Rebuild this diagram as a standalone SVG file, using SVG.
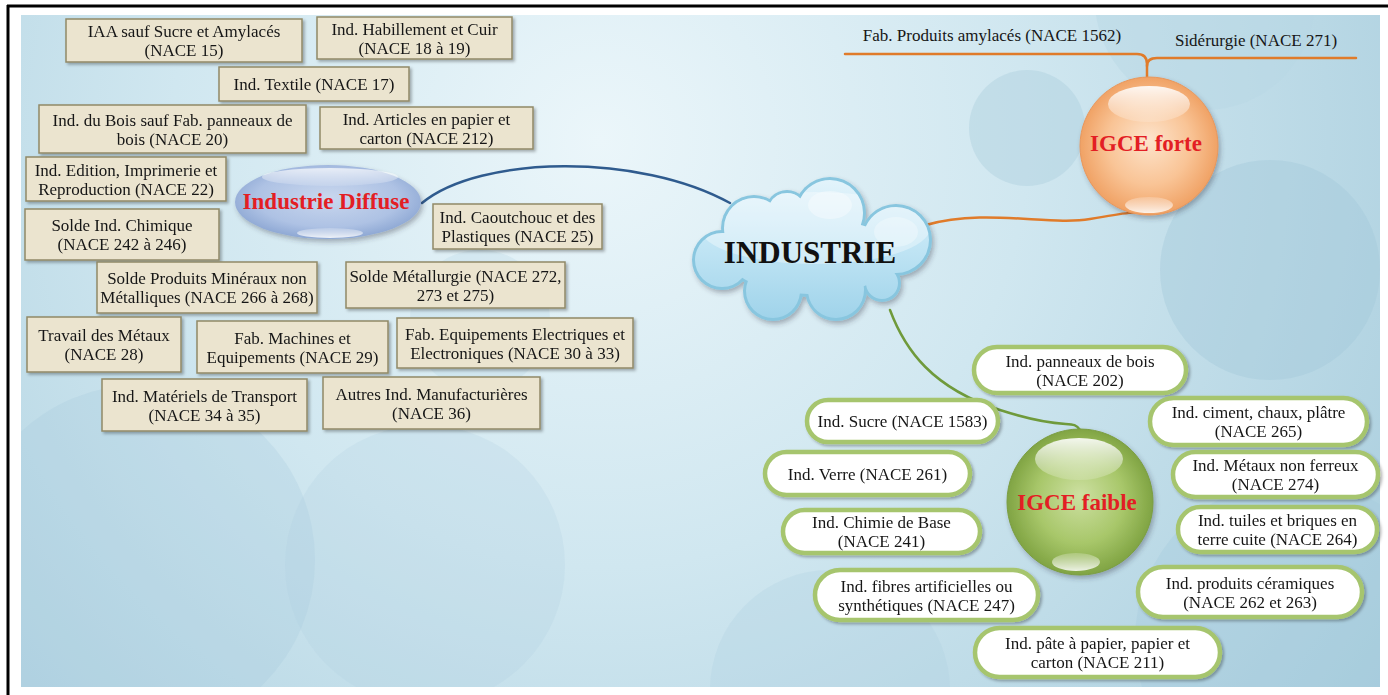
<svg xmlns="http://www.w3.org/2000/svg" width="1388" height="695" viewBox="0 0 1388 695">
<defs>
  <radialGradient id="bg" cx="600" cy="140" r="950" gradientUnits="userSpaceOnUse">
    <stop offset="0" stop-color="#ebf6fa"/>
    <stop offset="0.45" stop-color="#d0e7f0"/>
    <stop offset="1" stop-color="#a8cddd"/>
  </radialGradient>
  <clipPath id="bgclip"><rect x="21" y="15" width="1359" height="672"/></clipPath>
  <linearGradient id="cloudGrad" x1="0" y1="178" x2="0" y2="320" gradientUnits="userSpaceOnUse">
    <stop offset="0" stop-color="#e4f4fb"/>
    <stop offset="0.45" stop-color="#c3e6f5"/>
    <stop offset="1" stop-color="#9fd3ea"/>
  </linearGradient>
  <radialGradient id="orangeGrad" cx="0.5" cy="0.5" r="0.5" fx="0.5" fy="0.45">
    <stop offset="0" stop-color="#fde4cc"/>
    <stop offset="0.6" stop-color="#f9c496"/>
    <stop offset="1" stop-color="#f0a265"/>
  </radialGradient>
  <radialGradient id="greenGrad" cx="0.5" cy="0.5" r="0.5" fx="0.5" fy="0.45">
    <stop offset="0" stop-color="#cde0a2"/>
    <stop offset="0.6" stop-color="#a8c76a"/>
    <stop offset="1" stop-color="#80a443"/>
  </radialGradient>
  <radialGradient id="blueGrad" cx="0.5" cy="0.45" r="0.55">
    <stop offset="0" stop-color="#c9d7ee"/>
    <stop offset="0.7" stop-color="#aec2e4"/>
    <stop offset="1" stop-color="#8ea8d4"/>
  </radialGradient>
  <linearGradient id="hl" x1="0" y1="0" x2="0" y2="1">
    <stop offset="0" stop-color="#ffffff" stop-opacity="0.9"/>
    <stop offset="1" stop-color="#ffffff" stop-opacity="0.15"/>
  </linearGradient>
  <linearGradient id="hlb" x1="0" y1="1" x2="0" y2="0">
    <stop offset="0" stop-color="#ffffff" stop-opacity="0.85"/>
    <stop offset="1" stop-color="#ffffff" stop-opacity="0.2"/>
  </linearGradient>
  <filter id="sh" x="-10%" y="-10%" width="130%" height="140%">
    <feDropShadow dx="2" dy="2" stdDeviation="1.5" flood-color="#000" flood-opacity="0.3"/>
  </filter>
  <filter id="shs" x="-20%" y="-20%" width="140%" height="150%">
    <feDropShadow dx="2" dy="3" stdDeviation="2.5" flood-color="#334" flood-opacity="0.35"/>
  </filter>
  <clipPath id="cloudclip">
    <circle cx="787" cy="212" r="19"/>
    <circle cx="830" cy="213" r="33"/>
    <circle cx="754" cy="228" r="30"/>
    <circle cx="896" cy="240" r="33"/>
    <circle cx="722" cy="260" r="27"/>
    <circle cx="773" cy="291" r="27"/>
    <circle cx="836" cy="290" r="28"/>
    <circle cx="882" cy="283" r="16"/>
    <ellipse cx="812" cy="256" rx="85" ry="38"/>
  </clipPath>
  <style>
    .box rect { fill: #ebe4cf; stroke: #918967; stroke-width: 1.5; }
    .pill rect { fill: #ffffff; stroke: #a6c56e; stroke-width: 4.5; }
    text { font-family: "Liberation Serif", "Times New Roman", serif; }
    .t { font-family: "Liberation Serif", "Times New Roman", serif; font-size: 17px; fill: #161616; text-anchor: middle; }
    .red { font-family: "Liberation Serif", "Times New Roman", serif; font-size: 23px; font-weight: bold; fill: #e31e24; text-anchor: middle; }
    .conn { fill: none; stroke-width: 2.5; stroke-linecap: round; }
  </style>
</defs>

<!-- page frame -->
<rect x="0" y="0" width="1388" height="695" fill="#ffffff"/>
<rect x="21" y="15" width="1359" height="672" fill="url(#bg)"/>
<g clip-path="url(#bgclip)">
  <circle cx="140" cy="560" r="175" fill="#a2c9db" opacity="0.25"/>
  <circle cx="425" cy="565" r="140" fill="#accfe0" opacity="0.22"/>
  <circle cx="480" cy="320" r="70" fill="#b9d8e6" opacity="0.3"/>
  <circle cx="1027" cy="128" r="58" fill="#a9cddd" opacity="0.4"/>
  <circle cx="1205" cy="0" r="110" fill="#b7d6e4" opacity="0.45"/>
  <circle cx="1270" cy="270" r="110" fill="#a2c8da" opacity="0.4"/>
  <circle cx="1295" cy="640" r="160" fill="#a5cbdd" opacity="0.35"/>
  <circle cx="830" cy="690" r="120" fill="#b0d2e1" opacity="0.3"/>
</g>
<line x1="8" y1="5" x2="8" y2="695" stroke="#000" stroke-width="3"/>
<line x1="7" y1="6" x2="1388" y2="6" stroke="#000" stroke-width="3"/>

<!-- connectors -->
<g id="connectors">
  <path class="conn" d="M422 203 C480 155 640 153 730 203" stroke="#2f5b8e"/>
  <path class="conn" d="M926 225 C985 208 1050 226 1090 219 S1135 212 1146 212" stroke="#e07b2a"/>
  <path class="conn" d="M890 310 C905 350 932 388 1000 410 S1072 418 1080 430" stroke="#6f9a3b"/>
  <path class="conn" d="M845 54 L1137 54 Q1147 54 1147 64 L1147 78" stroke="#e07b2a"/>
  <path class="conn" d="M1147 66 Q1147 58 1157 58 L1356 58" stroke="#e07b2a"/>
</g>

<!-- central cloud -->
<g id="industrie">
  <g filter="url(#shs)">
    <g fill="#88c6df">
      <circle cx="787" cy="212" r="22"/>
      <circle cx="830" cy="213" r="36"/>
      <circle cx="754" cy="228" r="33"/>
      <circle cx="896" cy="240" r="36"/>
      <circle cx="722" cy="260" r="30"/>
      <circle cx="773" cy="291" r="30"/>
      <circle cx="836" cy="290" r="31"/>
      <circle cx="882" cy="283" r="19"/>
      <ellipse cx="812" cy="256" rx="88" ry="41"/>
    </g>
  </g>
  <rect x="690" y="170" width="250" height="160" fill="url(#cloudGrad)" clip-path="url(#cloudclip)"/>
  <g clip-path="url(#cloudclip)">
    <ellipse cx="815" cy="228" rx="115" ry="36" fill="#ffffff" opacity="0.35"/>
    <ellipse cx="830" cy="205" rx="22" ry="14" fill="#ffffff" opacity="0.35"/>
    <ellipse cx="896" cy="232" rx="22" ry="15" fill="#ffffff" opacity="0.3"/>
  </g>
  <text x="810" y="263" text-anchor="middle" font-size="31" font-weight="bold" fill="#111">INDUSTRIE</text>
</g>

<!-- Industrie Diffuse -->
<g id="industrie-diffuse">
  <ellipse cx="328" cy="202" rx="93" ry="37" fill="url(#blueGrad)" filter="url(#shs)"/>
  <ellipse cx="330" cy="177" rx="68" ry="9" fill="url(#hl)" opacity="0.8"/>
  <ellipse cx="330" cy="233" rx="33" ry="5" fill="url(#hlb)"/>
  <text class="red" x="326" y="209">Industrie Diffuse</text>
</g>

<!-- IGCE forte -->
<g id="igce-forte">
  <circle cx="1149" cy="146" r="69" fill="url(#orangeGrad)" stroke="#e8975c" stroke-width="1" filter="url(#shs)"/>
  <ellipse cx="1149" cy="104" rx="41" ry="18" fill="url(#hl)"/>
  <ellipse cx="1149" cy="205" rx="24" ry="8" fill="url(#hlb)"/>
  <text class="red" x="1146" y="151">IGCE forte</text>
</g>
<g id="fab-amylaces"><text class="t" x="992" y="41">Fab. Produits amylacés (NACE 1562)</text></g>
<g id="siderurgie"><text class="t" x="1256" y="46">Sidérurgie (NACE 271)</text></g>

<!-- IGCE faible -->
<g id="igce-faible">
  <circle cx="1080" cy="502" r="73" fill="url(#greenGrad)" stroke="#7b9d42" stroke-width="1" filter="url(#shs)"/>
  <ellipse cx="1079" cy="459" rx="44" ry="21" fill="url(#hl)"/>
  <ellipse cx="1076" cy="562" rx="24" ry="9" fill="url(#hlb)"/>
  <text class="red" x="1077" y="510">IGCE faible</text>
</g>

<!-- Industrie Diffuse boxes -->
<g id="iaa" class="box" filter="url(#sh)"><rect x="66" y="19" width="236" height="43"/><text class="t" x="184" y="37">IAA sauf Sucre et Amylacés</text><text class="t" x="184" y="56">(NACE 15)</text></g>
<g id="habillement" class="box" filter="url(#sh)"><rect x="317" y="17" width="195" height="42"/><text class="t" x="414.5" y="34.5">Ind. Habillement et Cuir</text><text class="t" x="414.5" y="53.5">(NACE 18 à 19)</text></g>
<g id="textile" class="box" filter="url(#sh)"><rect x="219" y="67" width="190" height="34"/><text class="t" x="314" y="90">Ind. Textile (NACE 17)</text></g>
<g id="bois" class="box" filter="url(#sh)"><rect x="39" y="105" width="267" height="48"/><text class="t" x="172.5" y="125.5">Ind. du Bois sauf Fab. panneaux de</text><text class="t" x="172.5" y="144.5">bois (NACE 20)</text></g>
<g id="articles-papier" class="box" filter="url(#sh)"><rect x="320" y="107" width="213" height="42"/><text class="t" x="426.5" y="124.5">Ind. Articles en papier et</text><text class="t" x="426.5" y="143.5">carton (NACE 212)</text></g>
<g id="edition" class="box" filter="url(#sh)"><rect x="26" y="157" width="200" height="44"/><text class="t" x="126" y="175.5">Ind. Edition, Imprimerie et</text><text class="t" x="126" y="194.5">Reproduction (NACE 22)</text></g>
<g id="caoutchouc" class="box" filter="url(#sh)"><rect x="433" y="204" width="169" height="45"/><text class="t" x="517.5" y="223">Ind. Caoutchouc et des</text><text class="t" x="517.5" y="242">Plastiques (NACE 25)</text></g>
<g id="solde-chimique" class="box" filter="url(#sh)"><rect x="25" y="209" width="194" height="51"/><text class="t" x="122" y="231">Solde Ind. Chimique</text><text class="t" x="122" y="250">(NACE 242 à 246)</text></g>
<g id="solde-mineraux" class="box" filter="url(#sh)"><rect x="97" y="262" width="220" height="51"/><text class="t" x="207" y="284">Solde Produits Minéraux non</text><text class="t" x="207" y="303">Métalliques (NACE 266 à 268)</text></g>
<g id="solde-metallurgie" class="box" filter="url(#sh)"><rect x="346" y="262" width="219" height="46"/><text class="t" x="455.5" y="281.5">Solde Métallurgie (NACE 272,</text><text class="t" x="455.5" y="300.5">273 et 275)</text></g>
<g id="travail-metaux" class="box" filter="url(#sh)"><rect x="27" y="317" width="154" height="55"/><text class="t" x="104" y="341">Travail des Métaux</text><text class="t" x="104" y="360">(NACE 28)</text></g>
<g id="machines" class="box" filter="url(#sh)"><rect x="197" y="321" width="191" height="52"/><text class="t" x="292.5" y="343.5">Fab. Machines et</text><text class="t" x="292.5" y="362.5">Equipements (NACE 29)</text></g>
<g id="equipements-electriques" class="box" filter="url(#sh)"><rect x="397" y="318" width="236" height="50"/><text class="t" x="515" y="339.5">Fab. Equipements Electriques et</text><text class="t" x="515" y="358.5">Electroniques (NACE 30 à 33)</text></g>
<g id="transport" class="box" filter="url(#sh)"><rect x="102" y="379" width="205" height="52"/><text class="t" x="204.5" y="401.5">Ind. Matériels de Transport</text><text class="t" x="204.5" y="420.5">(NACE 34 à 35)</text></g>
<g id="autres" class="box" filter="url(#sh)"><rect x="323" y="377" width="217" height="52"/><text class="t" x="431.5" y="399.5">Autres Ind. Manufacturières</text><text class="t" x="431.5" y="418.5">(NACE 36)</text></g>

<!-- IGCE faible pills -->
<g id="panneaux" class="pill" filter="url(#sh)"><rect x="974" y="347" width="212" height="46" rx="23"/><text class="t" x="1080" y="366.5">Ind. panneaux de bois</text><text class="t" x="1080" y="385.5">(NACE 202)</text></g>
<g id="sucre" class="pill" filter="url(#sh)"><rect x="807" y="400" width="191" height="42" rx="21"/><text class="t" x="902.5" y="427">Ind. Sucre (NACE 1583)</text></g>
<g id="verre" class="pill" filter="url(#sh)"><rect x="765" y="452" width="205" height="43" rx="21.5"/><text class="t" x="867.5" y="479.5">Ind. Verre (NACE 261)</text></g>
<g id="chimie-base" class="pill" filter="url(#sh)"><rect x="783" y="510" width="197" height="43" rx="21.5"/><text class="t" x="881.5" y="528">Ind. Chimie de Base</text><text class="t" x="881.5" y="547">(NACE 241)</text></g>
<g id="fibres" class="pill" filter="url(#sh)"><rect x="815" y="570" width="223" height="50" rx="25"/><text class="t" x="926.5" y="591.5">Ind. fibres artificielles ou</text><text class="t" x="926.5" y="610.5">synthétiques (NACE 247)</text></g>
<g id="pate-papier" class="pill" filter="url(#sh)"><rect x="975" y="628" width="245" height="49" rx="24.5"/><text class="t" x="1097.5" y="649">Ind. pâte à papier, papier et</text><text class="t" x="1097.5" y="668">carton (NACE 211)</text></g>
<g id="ciment" class="pill" filter="url(#sh)"><rect x="1150" y="398" width="217" height="47" rx="23.5"/><text class="t" x="1258.5" y="418">Ind. ciment, chaux, plâtre</text><text class="t" x="1258.5" y="437">(NACE 265)</text></g>
<g id="metaux-non-ferreux" class="pill" filter="url(#sh)"><rect x="1173" y="452" width="205" height="45" rx="22.5"/><text class="t" x="1275.5" y="471">Ind. Métaux non ferreux</text><text class="t" x="1275.5" y="490">(NACE 274)</text></g>
<g id="tuiles" class="pill" filter="url(#sh)"><rect x="1178" y="507" width="199" height="45" rx="22.5"/><text class="t" x="1277.5" y="526">Ind. tuiles et briques en</text><text class="t" x="1277.5" y="545">terre cuite (NACE 264)</text></g>
<g id="ceramiques" class="pill" filter="url(#sh)"><rect x="1138" y="567" width="224" height="50" rx="25"/><text class="t" x="1250" y="588.5">Ind. produits céramiques</text><text class="t" x="1250" y="607.5">(NACE 262 et 263)</text></g>
</svg>
